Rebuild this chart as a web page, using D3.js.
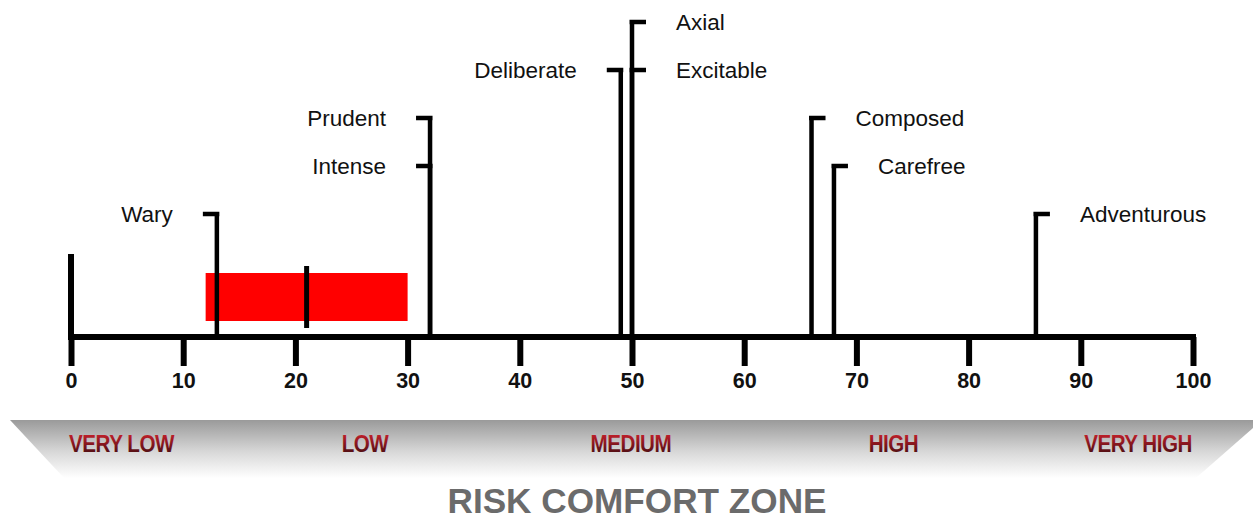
<!DOCTYPE html>
<html>
<head>
<meta charset="utf-8">
<script src="https://cdn.jsdelivr.net/npm/d3@7"></script>
<style>
  html, body { margin: 0; padding: 0; background: #fff; }
  svg { display: block; }
</style>
</head>
<body>
<div id="chart"></div>
<script>
(function() {
  'use strict';

  // trait markers
  var traitNames  = ['Wary', 'Prudent', 'Intense', 'Deliberate', 'Axial', 'Excitable', 'Composed', 'Carefree', 'Adventurous'];
  var traitScores = [13, 32, 32, 49, 50, 50, 66, 68, 86];
  var traitLevels = [1, 3, 2, 4, 5, 4, 3, 2, 1];
  var traitSides  = ['left', 'left', 'left', 'left', 'right', 'right', 'right', 'right', 'right'];

  // comfort range
  var zoneRange = [12, 30];
  var zoneMark = 21;

  var tickValues = [0, 10, 20, 30, 40, 50, 60, 70, 80, 90, 100];
  var bandNames = ['VERY LOW', 'LOW', 'MEDIUM', 'HIGH', 'VERY HIGH'];
  var bandCenters = [4.5, 26.2, 49.9, 73.3, 95.1];
  var title = 'RISK COMFORT ZONE';

  var width = 1253, height = 521;
  var axisY = 337;
  var hook = 14;
  var labelGap = 30;
  var squeeze = 0.86;

  var x = d3.scaleLinear().domain([0, 100]).range([71, 1193]);
  var y = d3.scaleLinear().domain([1, 5]).range([214, 22]);

  var svg = d3.select('#chart').append('svg')
      .attr('width', width)
      .attr('height', height);

  var defs = svg.append('defs');
  var bandGrad = defs.append('linearGradient')
      .attr('id', 'bandGrad').attr('x1', 0).attr('y1', 0).attr('x2', 0).attr('y2', 1);
  bandGrad.append('stop').attr('offset', '0%').attr('stop-color', '#9a9a9a');
  bandGrad.append('stop').attr('offset', '55%').attr('stop-color', '#d8d8d8');
  bandGrad.append('stop').attr('offset', '100%').attr('stop-color', '#ffffff');

  var textGrad = defs.append('linearGradient')
      .attr('id', 'textGrad').attr('x1', 0).attr('y1', 0).attr('x2', 0).attr('y2', 1);
  textGrad.append('stop').attr('offset', '0%').attr('stop-color', '#d8222e');
  textGrad.append('stop').attr('offset', '100%').attr('stop-color', '#360b0e');

  // banner
  svg.append('polygon')
      .attr('points', '10,420 1253,420 1253,428 1196,478 64,478')
      .attr('fill', 'url(#bandGrad)');

  svg.append('g').selectAll('text')
      .data(bandNames)
      .enter()
      .append('text')
      .attr('transform', function(d, i) {
        return 'translate(' + x(bandCenters[i]) + ',452) scale(' + squeeze + ',1)';
      })
      .attr('text-anchor', 'middle')
      .attr('font-family', 'Liberation Sans, Arial, sans-serif')
      .attr('font-weight', 'bold')
      .attr('font-size', 24)
      .attr('letter-spacing', -0.6)
      .attr('fill', 'url(#textGrad)')
      .text(function(d) { return d; });

  svg.append('text')
      .attr('x', 637)
      .attr('y', 513)
      .attr('text-anchor', 'middle')
      .attr('font-family', 'Liberation Sans, Arial, sans-serif')
      .attr('font-weight', 'bold')
      .attr('font-size', 35)
      .attr('textLength', 379)
      .attr('lengthAdjust', 'spacingAndGlyphs')
      .attr('fill', '#6b6b6b')
      .text(title);

  // comfort range bar
  svg.append('rect')
      .attr('x', x(zoneRange[0]))
      .attr('y', 273)
      .attr('width', x(zoneRange[1]) - x(zoneRange[0]))
      .attr('height', 48)
      .attr('fill', '#ff0000');

  svg.append('line')
      .attr('x1', x(zoneMark)).attr('x2', x(zoneMark))
      .attr('y1', 266).attr('y2', 328)
      .attr('stroke', '#000')
      .attr('stroke-width', 5);

  // trait lines
  var traits = svg.append('g').selectAll('g')
      .data(traitNames)
      .enter()
      .append('g');

  traits.append('path')
      .attr('d', function(d, i) {
        var px = x(traitScores[i]), py = y(traitLevels[i]);
        var hx = traitSides[i] === 'left' ? px - hook : px + hook;
        return 'M' + px + ',' + axisY + 'V' + py + 'M' + (px + (traitSides[i] === 'left' ? 2.5 : -2.5)) + ',' + py + 'H' + hx;
      })
      .attr('fill', 'none')
      .attr('stroke', '#000')
      .attr('stroke-width', 4.5);

  traits.append('text')
      .attr('x', function(d, i) {
        var px = x(traitScores[i]);
        return traitSides[i] === 'left' ? px - hook - labelGap : px + hook + labelGap;
      })
      .attr('y', function(d, i) { return y(traitLevels[i]); })
      .attr('dy', '0.35em')
      .attr('text-anchor', function(d, i) { return traitSides[i] === 'left' ? 'end' : 'start'; })
      .attr('font-family', 'Liberation Sans, Arial, sans-serif')
      .attr('font-size', 22.5)
      .attr('fill', '#111')
      .text(function(d) { return d; });

  // zero post above the axis
  svg.append('line')
      .attr('x1', x(0)).attr('x2', x(0))
      .attr('y1', 254).attr('y2', axisY)
      .attr('stroke', '#000')
      .attr('stroke-width', 6);

  // axis
  var axis = d3.axisBottom(x)
      .tickValues(tickValues)
      .tickSizeInner(29)
      .tickSizeOuter(0)
      .tickPadding(7);

  var gx = svg.append('g')
      .attr('transform', 'translate(0,' + axisY + ')')
      .call(axis);

  gx.select('.domain')
      .attr('d', 'M' + (x(0) - 3) + ',0H' + (x(100) + 3))
      .attr('stroke', '#000')
      .attr('stroke-width', 6);
  gx.selectAll('.tick line')
      .attr('stroke', '#000')
      .attr('stroke-width', 6);
  gx.selectAll('.tick text')
      .attr('font-family', 'Liberation Sans, Arial, sans-serif')
      .attr('font-weight', 'bold')
      .attr('font-size', 21.5)
      .attr('fill', '#111');
})();
</script>
</body>
</html>
